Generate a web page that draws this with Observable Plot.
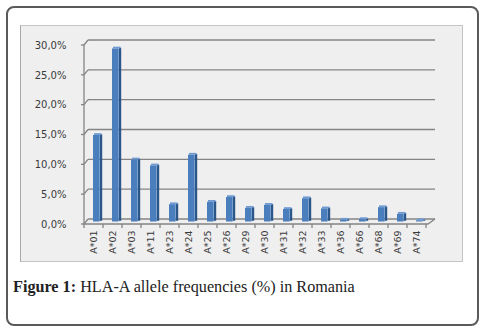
<!DOCTYPE html>
<html>
<head>
<meta charset="utf-8">
<script src="https://cdn.jsdelivr.net/npm/d3@7"></script>
<script src="https://cdn.jsdelivr.net/npm/@observablehq/plot@0.6"></script>
<style>
  html, body { margin: 0; padding: 0; background: #fff; }
  #frame { position: absolute; left: 6px; top: 6px; width: 473px; height: 320px; box-sizing: border-box;
           border: 2px solid #5a5a5a; border-radius: 8px; }
  #panel { position: absolute; left: 20px; top: 25px; width: 443px; height: 237px; box-sizing: border-box;
           background: #efefef; border: 1px solid #c4c4c4; border-left-color: #a8a8a8; }
  #chart { position: absolute; left: 20px; top: 25px; }
  #caption { position: absolute; left: 13px; top: 278px; font-family: "Liberation Serif", serif; font-size: 16.2px;
             line-height: 18px; color: #222; white-space: nowrap; }
</style>
</head>
<body>
<div id="frame"></div>
<div id="panel"></div>
<div id="chart"></div>
<div id="caption"><b>Figure 1:</b> HLA-A allele frequencies (%) in Romania</div>
<script>
const categories = ["A*01","A*02","A*03","A*11","A*23","A*24","A*25","A*26","A*29","A*30","A*31","A*32","A*33","A*36","A*66","A*68","A*69","A*74"];
const frequencies = [14.5, 29.0, 10.4, 9.4, 2.9, 11.2, 3.3, 4.1, 2.3, 2.8, 2.1, 3.9, 2.2, 0.3, 0.4, 2.4, 1.3, 0.2];
const yTicks = [0, 5, 10, 15, 20, 25, 30];

const data = categories.map((c, i) => ({allele: c, freq: frequencies[i]}));
const fmt = d => d.toFixed(1).replace(".", ",") + "%";

const DX = 4, DY = 5; // 3D depth offset

function wallAndFloor(index, scales, values, dims) {
  const x = scales.x, y = scales.y;
  const step = x(categories[1]) - x(categories[0]);
  const x0 = x(categories[0]);
  const xEnd = x0 + step * categories.length;
  const g = d3.create("svg:g").attr("fill", "none").attr("stroke", "#848484").attr("stroke-width", 1.3);
  for (const t of yTicks) {
    const yy = y(t);
    g.append("line").attr("x1", x0 + DX).attr("x2", xEnd + DX + 5).attr("y1", yy - DY).attr("y2", yy - DY);
    g.append("line").attr("x1", x0).attr("x2", x0 + DX).attr("y1", yy).attr("y2", yy - DY);
    g.append("line").attr("x1", x0 - 3).attr("x2", x0).attr("y1", yy).attr("y2", yy);
  }
  g.append("line").attr("x1", x0).attr("x2", x0).attr("y1", y(0)).attr("y2", y(yTicks[yTicks.length - 1]));
  const y0 = y(0);
  g.append("path").attr("d", `M${x0},${y0}H${xEnd + 2}L${xEnd + DX + 5},${y0 - DY}`);
  for (let i = 0; i <= categories.length; i++) {
    const xx = x0 + i * step;
    g.append("line").attr("x1", xx).attr("x2", xx).attr("y1", y0).attr("y2", y0 + 4);
  }
  return g.node();
}

const chart = Plot.plot({
  width: 443,
  height: 237,
  marginLeft: 56,
  marginRight: 30,
  marginTop: 20,
  marginBottom: 38,
  style: {background: "transparent", fontFamily: "DejaVu Sans, Verdana, sans-serif", fontSize: "10px", color: "#3a3a3a"},
  x: {domain: categories, padding: 0, label: null},
  y: {domain: [0, 30], label: null},
  marks: [
    wallAndFloor,
    Plot.barY(data, {x: "allele", y: "freq", fill: "#2b5689", insetLeft: 16, insetRight: 0.8, dy: -3.2}),
    Plot.barY(data, {x: "allele", y1: "freq", y2: "freq", insetTop: -1.8, fill: "#6f9ad3", insetLeft: 10, insetRight: 1.5, dy: -2.5}),
    Plot.barY(data, {x: "allele", y: "freq", fill: "#4a7ebc", insetLeft: 9, insetRight: 3.3, dy: -2.5}),
    Plot.axisY(yTicks, {tickSize: 0, tickPadding: 10, tickFormat: fmt, fontSize: 10, fill: "#3a3a3a"}),
    Plot.axisX({tickSize: 0, tickRotate: -90, tickPadding: 6, fontSize: 9.5, fill: "#3a3a3a"})
  ]
});
document.getElementById("chart").appendChild(chart);
</script>
</body>
</html>
